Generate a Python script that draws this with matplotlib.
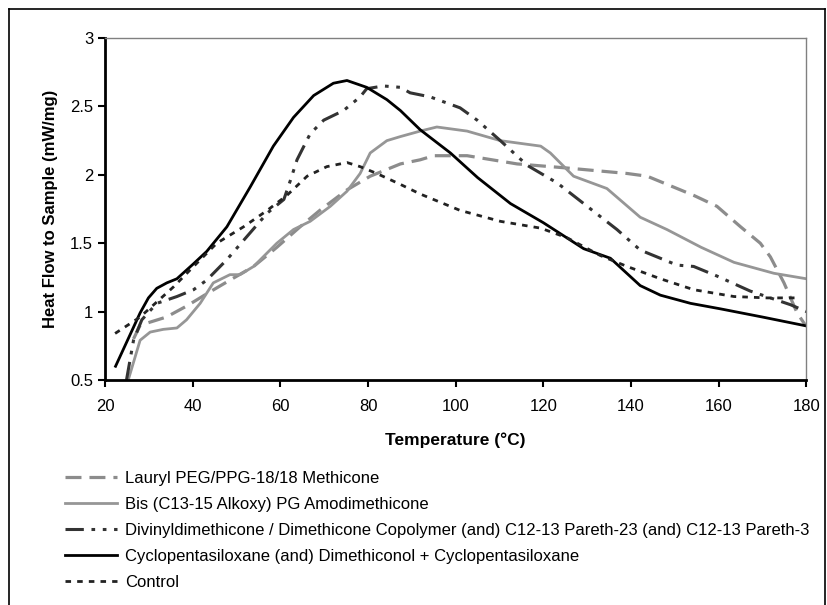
import matplotlib
matplotlib.use("Agg")
import matplotlib.pyplot as plt
from matplotlib.lines import Line2D

plt.rcParams['font.family'] = ['Liberation Sans', 'DejaVu Sans']

# series (temperature in C, heat flow in mW/mg)
lauryl_t = [26.5, 28, 34, 38.6, 43.2, 48.5, 53.9, 59.2, 64.5, 69, 75.2, 80.5, 87.4, 91.9, 95,
            102.6, 114, 125.4, 139.1, 143.7, 154.3, 159.6, 165, 169.5, 171.8, 174.9, 177.9, 179.8]
lauryl_y = [0.80, 0.90, 0.96, 1.04, 1.13, 1.23, 1.33, 1.47, 1.62, 1.74, 1.89, 1.99, 2.08, 2.11, 2.14,
            2.14, 2.08, 2.05, 2.01, 1.99, 1.85, 1.77, 1.62, 1.50, 1.40, 1.21, 0.99, 0.90]

bis_t = [25.3, 28, 30.3, 33.3, 36.4, 38.6, 41.7, 44.7, 48.5, 50.8, 53.9, 59.2, 63, 66.8, 71.4, 75.2,
         78.2, 80.5, 84.3, 87.4, 91.9, 95.7, 102.6, 110.2, 119.4, 121.6, 126.9, 134.5, 142.1, 148.2,
         156, 163.5, 172.6, 180]
bis_y = [0.5, 0.79, 0.85, 0.87, 0.88, 0.94, 1.06, 1.21, 1.27, 1.27, 1.33, 1.50, 1.60, 1.66, 1.77, 1.88,
         2.01, 2.16, 2.25, 2.28, 2.32, 2.35, 2.32, 2.25, 2.21, 2.16, 1.99, 1.90, 1.69, 1.60,
         1.47, 1.36, 1.28, 1.24]

divinyl_t = [24.9, 26.5, 28.4, 31.8, 36.4, 40.2, 43.2, 47.8, 52.4, 57, 60.8, 62.3, 63.8, 66.8, 69.9,
             74.4, 78.2, 79.7, 83.5, 87.4, 89.6, 94.2, 101, 104.9, 110.2, 116.3, 123.2, 130, 136.8,
             142.1, 150.5, 154.3, 159.6, 167.2, 176.4, 180]
divinyl_y = [0.5, 0.79, 0.94, 1.06, 1.11, 1.16, 1.23, 1.38, 1.55, 1.72, 1.82, 1.96, 2.11, 2.30, 2.40,
             2.47, 2.57, 2.63, 2.65, 2.64, 2.60, 2.57, 2.49, 2.40, 2.25, 2.07, 1.94, 1.77, 1.60,
             1.45, 1.34, 1.33, 1.26, 1.15, 1.05, 1.0]

cyclo_t = [22.4, 28, 29.9, 31.8, 34.1, 36.4, 40.2, 43.2, 47.8, 53.1, 58.4, 63, 67.6, 72.1, 75.2, 79.7,
           84.3, 87.4, 91.9, 98.8, 105, 112.5, 120, 129.2, 135.3, 142.1, 146.7, 153.6, 160.4, 170, 180]
cyclo_y = [0.6, 0.99, 1.10, 1.17, 1.21, 1.24, 1.35, 1.44, 1.62, 1.91, 2.21, 2.42, 2.58, 2.67, 2.69, 2.64,
           2.55, 2.47, 2.33, 2.16, 1.98, 1.79, 1.65, 1.46, 1.39, 1.19, 1.12, 1.06, 1.02, 0.96, 0.895]

control_t = [22.3, 28, 31.8, 35.6, 40.2, 45.5, 51.6, 57, 61.5, 66.1, 70.6, 75.2, 78.2, 82, 87.4, 91.9,
             101, 110.2, 119.4, 125.4, 133, 139.1, 146.7, 154.3, 163.5, 171.1, 178]
control_y = [0.84, 0.96, 1.07, 1.18, 1.33, 1.50, 1.62, 1.74, 1.85, 1.99, 2.06, 2.09, 2.06, 2.01, 1.93, 1.86,
             1.74, 1.66, 1.61, 1.54, 1.41, 1.33, 1.24, 1.16, 1.11, 1.10, 1.10]

labels = ["Lauryl PEG/PPG-18/18 Methicone",
          "Bis (C13-15 Alkoxy) PG Amodimethicone",
          "Divinyldimethicone / Dimethicone Copolymer (and) C12-13 Pareth-23 (and) C12-13 Pareth-3",
          "Cyclopentasiloxane (and) Dimethiconol + Cyclopentasiloxane",
          "Control"]

styles = [dict(color='#8c8c8c', lw=2.3, ls=(0, (5, 2.5))),
          dict(color='#969696', lw=2.0, ls='-'),
          dict(color='#333333', lw=2.2, ls=(0, (6, 2.5, 1.2, 2.5, 1.2, 2.5))),
          dict(color='black', lw=2.0, ls='-'),
          dict(color='#222222', lw=2.0, ls=(0, (2, 2.2)))]

fig = plt.figure(figsize=(8.27, 6.05), dpi=100)
ax = fig.add_axes([0.127, 0.372, 0.848, 0.565])

series = [(lauryl_t, lauryl_y), (bis_t, bis_y), (divinyl_t, divinyl_y),
          (cyclo_t, cyclo_y), (control_t, control_y)]
for (t, y), st in zip(series, styles):
    ax.plot(t, y, **st)

ax.set_xlim(20, 180)
ax.set_ylim(0.5, 3)
ax.set_xticks(range(20, 181, 20))
ax.set_yticks([0.5, 1, 1.5, 2, 2.5, 3])
ax.set_yticklabels(['0.5', '1', '1.5', '2', '2.5', '3'])
ax.tick_params(labelsize=12, direction='out', length=5, width=1.5)
ax.tick_params(axis='x', pad=9)
ax.set_xlabel("Temperature (°C)", fontsize=12.5, fontweight='bold', labelpad=13)
ax.set_ylabel("Heat Flow to Sample (mW/mg)", fontsize=12, fontweight='bold', labelpad=9)

for s in ['left', 'bottom']:
    ax.spines[s].set_linewidth(2)
    ax.spines[s].set_color('black')
for s in ['top', 'right']:
    ax.spines[s].set_linewidth(1)
    ax.spines[s].set_color('#808080')

handles = [Line2D([], [], **st) for st in styles]
fig.legend(handles, labels, loc='upper left', bbox_to_anchor=(0.0705, 0.233),
           frameon=False, fontsize=12, handlelength=3.1, handletextpad=0.48,
           labelspacing=0.66, borderaxespad=0)

# outer chart border
fig.add_artist(Line2D([0.011, 0.011], [0.0, 0.985], transform=fig.transFigure, color='black', lw=1.2))
fig.add_artist(Line2D([0.011, 0.998], [0.985, 0.985], transform=fig.transFigure, color='black', lw=1.2))
fig.add_artist(Line2D([0.998, 0.998], [0.0, 0.985], transform=fig.transFigure, color='black', lw=1.2))

fig.savefig("out.png", dpi=100)
